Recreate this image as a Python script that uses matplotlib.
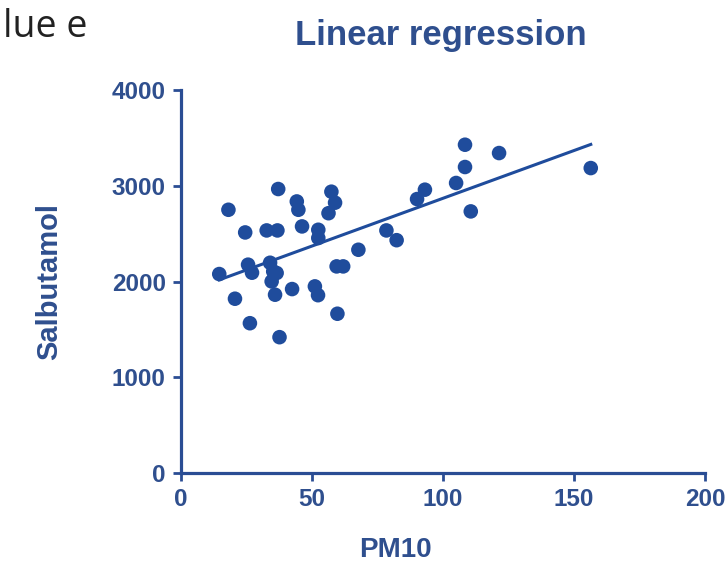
import numpy as np
import matplotlib
matplotlib.use("Agg")
import matplotlib.pyplot as plt

# PM10 vs Salbutamol
pm10 = [14.6, 18.1, 20.6, 24.5, 25.6, 27.1, 26.3, 32.7, 36.8, 37.1,
        34.0, 35.2, 36.5, 34.6, 35.9, 37.6, 42.4, 44.2, 44.8, 46.2,
        51.1, 52.3, 52.4, 52.4, 57.4, 58.8, 56.3, 59.4, 61.9, 59.7,
        67.7, 78.4, 82.3, 90.1, 93.1, 105.0, 108.4, 108.4, 110.6, 121.4,
        156.4]
salbutamol = [2080, 2752, 1822, 2515, 2178, 2094, 1566, 2536, 2536, 2969,
              2198, 2107, 2091, 2003, 1864, 1420, 1923, 2839, 2752, 2578,
              1951, 1859, 2543, 2457, 2941, 2826, 2716, 2160, 2160, 1665,
              2334, 2536, 2434, 2864, 2962, 3032, 3432, 3199, 2735, 3345,
              3188]
xticks = [0, 50, 100, 150, 200]
yticks = [0, 1000, 2000, 3000, 4000]

blue = "#1f4c9c"
axis_blue = "#2a4d94"
text_blue = "#2f4f8e"

plt.rcParams['font.family'] = ['Liberation Sans', 'DejaVu Sans']

fig = plt.figure(figsize=(7.28, 5.66), dpi=100)
ax = fig.add_axes([181 / 728, 93 / 566, 524 / 728, 382.6 / 566])

x = np.array(pm10)
y = np.array(salbutamol)
ax.scatter(x, y, s=110, color=blue, edgecolors='none', zorder=3, clip_on=False)

# least squares fit over the data range
slope, intercept = np.polyfit(x, y, 1)
xl = np.array([x.min(), x.max()])
ax.plot(xl, slope * xl + intercept, color=blue, lw=2.2, zorder=2)

ax.set_xlim(0, 200)
ax.set_ylim(0, 4000)
ax.set_xticks(xticks)
ax.set_yticks(yticks)

for side in ['top', 'right']:
    ax.spines[side].set_visible(False)
for side in ['left', 'bottom']:
    ax.spines[side].set_color(axis_blue)
    ax.spines[side].set_linewidth(2.3)

ax.tick_params(axis='both', direction='out', length=6, width=2,
               color=axis_blue, labelcolor=text_blue, labelsize=17.5, pad=5)
for lab in ax.get_xticklabels() + ax.get_yticklabels():
    lab.set_fontweight('bold')

ax.set_xlabel('PM10', fontsize=20, fontweight='bold', color=text_blue)
ax.xaxis.set_label_coords(0.41, -0.166)
ax.set_ylabel('Salbutamol', fontsize=21, fontweight='bold', color=text_blue)
ax.yaxis.set_label_coords(-0.225, 0.5)

fig.text(441 / 728, (566 - 45.5) / 566, 'Linear regression', fontsize=25,
         fontweight='bold', color=text_blue, ha='center', va='baseline')

# text fragment in the top left corner
fig.text(3 / 728, (566 - 37) / 566, 'lue e', fontsize=27,
         family=['Open Sans', 'DejaVu Sans'], color='#222222',
         ha='left', va='baseline')

fig.savefig('out.png', dpi=100)
